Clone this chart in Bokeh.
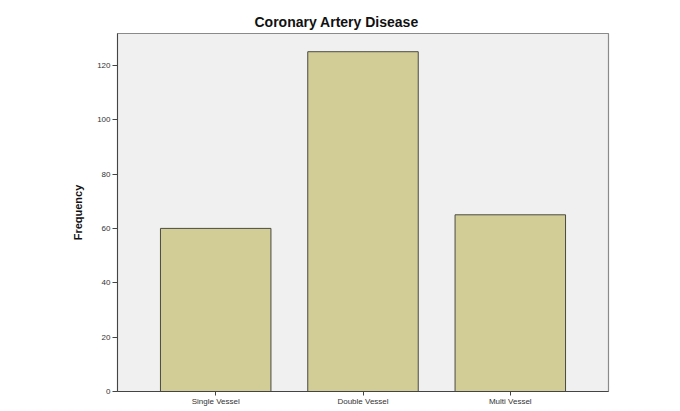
from bokeh.plotting import figure
from bokeh.models import FactorRange, Range1d, FixedTicker
from bokeh.embed import file_html
from bokeh.resources import INLINE

categories = ["Single Vessel", "Double Vessel", "Multi Vessel"]
frequency = [60, 125, 65]
y_ticks = [0, 20, 40, 60, 80, 100, 120]

p = figure(
    width=664, height=408,
    x_range=FactorRange(factors=categories, range_padding=0.1667, range_padding_units="absolute"),
    y_range=Range1d(0, 131.7),
    output_backend="svg", toolbar_location=None,
    title="Coronary Artery Disease",
    min_border_left=117, min_border_right=56, min_border_top=33, min_border_bottom=16,
)

p.vbar(x=categories, top=frequency, width=0.75,
       fill_color="#d2cd96", line_color="#4a4a40", line_width=1)

p.background_fill_color = "#f0f0f0"
p.border_fill_color = "white"
p.outline_line_color = "#8a8a8a"
p.outline_line_width = 1.2
p.grid.visible = False

p.title.text_font = "Liberation Sans"
p.title.text_font_size = "14px"
p.title.text_font_style = "bold"
p.title.text_color = "#111111"
p.title.align = "left"
p.title.offset = 137
p.title.standoff = 7

p.yaxis.ticker = FixedTicker(ticks=y_ticks)
p.yaxis.axis_label = "Frequency"
p.yaxis.axis_label_text_font = "Liberation Sans"
p.yaxis.axis_label_text_font_style = "bold"
p.yaxis.axis_label_text_font_size = "11px"
p.yaxis.axis_label_text_color = "#111111"
p.yaxis.axis_label_standoff = 10
p.yaxis.major_label_text_font = "Liberation Sans"
p.yaxis.major_label_text_font_size = "8px"
p.yaxis.major_label_text_color = "#333333"
p.yaxis.major_tick_out = 5
p.yaxis.major_tick_in = 0
p.yaxis.minor_tick_line_color = None
p.yaxis.major_label_standoff = 2
p.yaxis.axis_line_color = "#444444"
p.yaxis.major_tick_line_color = "#444444"

p.xaxis.major_label_text_font = "Liberation Sans"
p.xaxis.major_label_text_font_size = "8px"
p.xaxis.major_label_text_color = "#333333"
p.xaxis.major_tick_out = 4
p.xaxis.major_tick_in = 0
p.xaxis.major_label_standoff = 1
p.xaxis.axis_line_color = "#444444"
p.xaxis.major_tick_line_color = "#444444"

open("out.html", "w").write(file_html(p, INLINE))
